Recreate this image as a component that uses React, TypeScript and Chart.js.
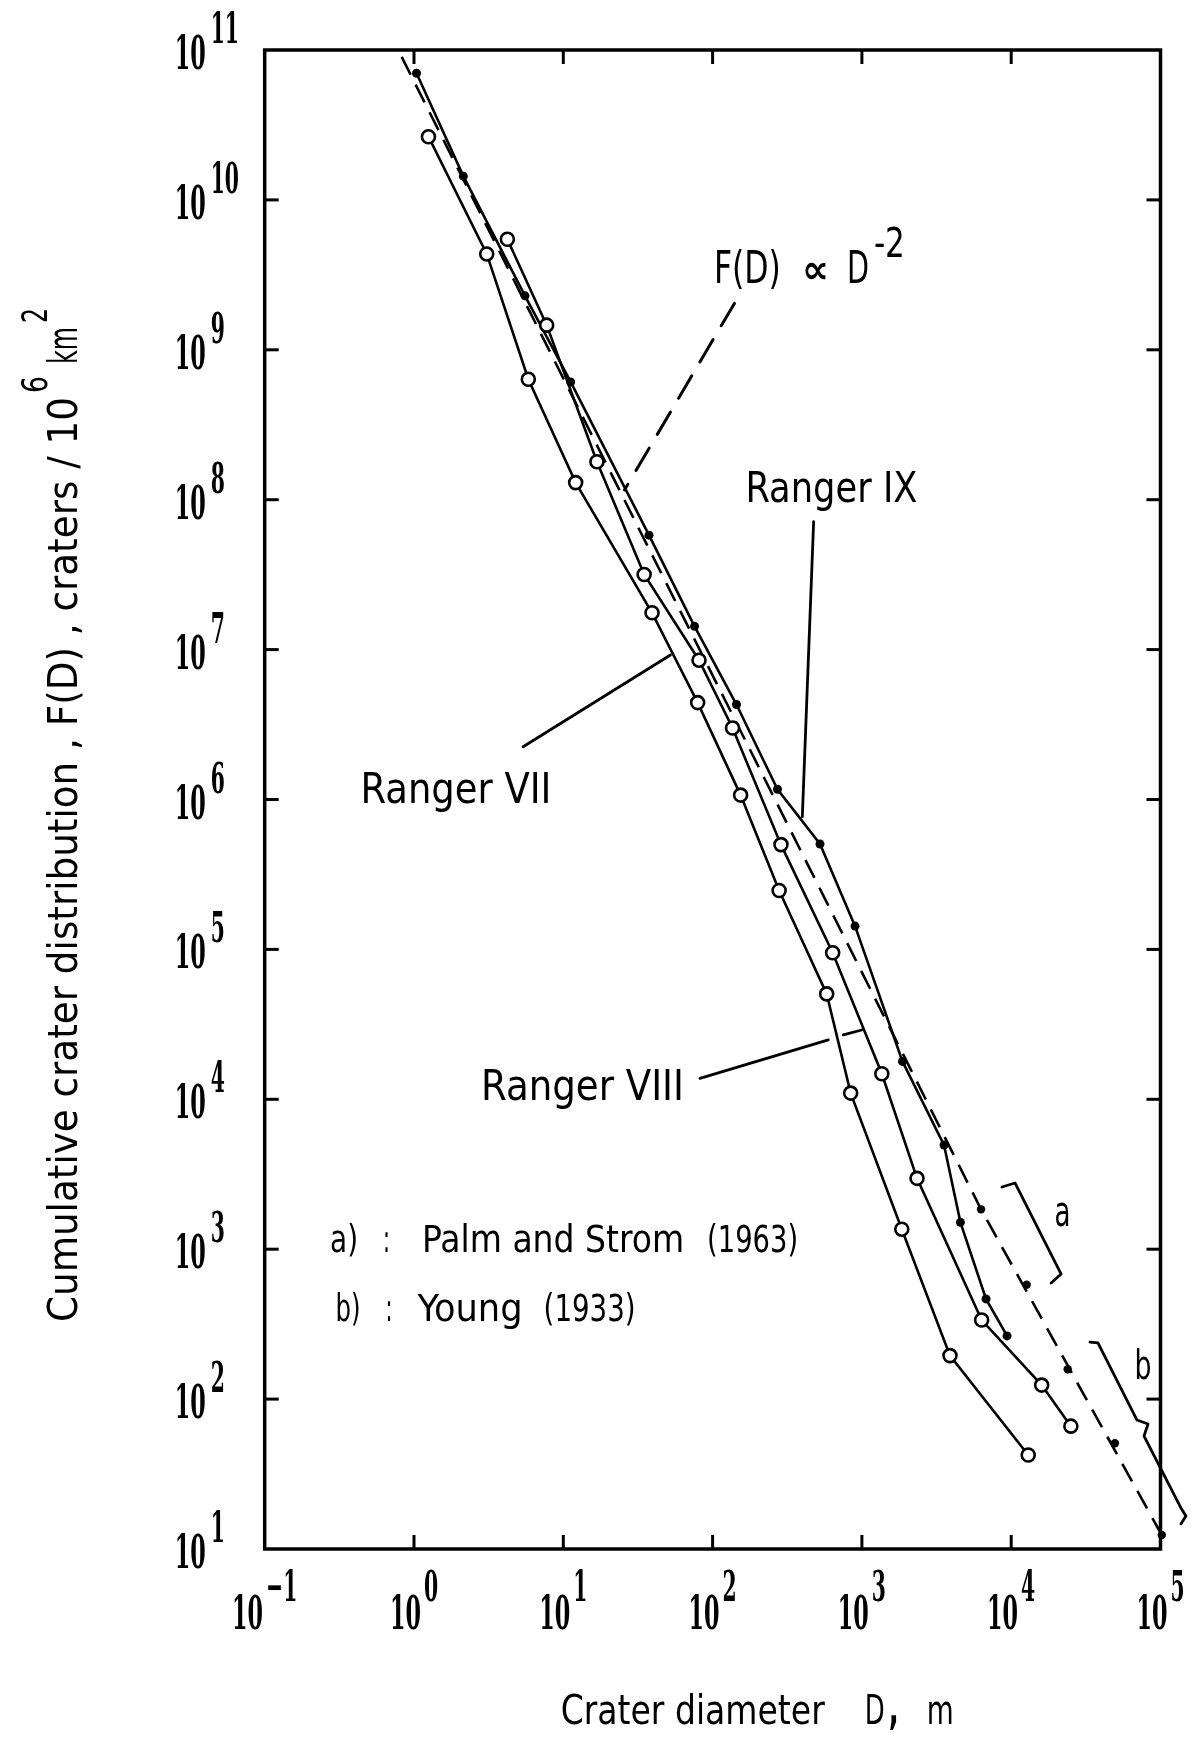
import React, { useEffect, useRef } from 'react';
import { Chart, registerables } from 'chart.js';

Chart.register(...registerables);

const SANS = '"DejaVu Sans Condensed", "Liberation Sans Narrow", "DejaVu Sans", sans-serif';
const SERIF = '"DejaVu Serif Condensed", "DejaVu Serif", "Liberation Serif", serif';

// ---- Data: crater diameter D (m) and cumulative crater count F(D) per 10^6 km^2 ----
const rangerVII_D = [1.25, 3.07, 5.83, 12.1, 39.3, 79.4, 154, 279, 581, 841, 1850, 3890, 13000];
const rangerVII_F = [2.64e10, 4.36e9, 6.36e8, 1.3e8, 1.76e7, 4.43e6, 1.07e6, 2.47e5, 5.05e4, 1.1e4, 1360, 195, 42.4];

const rangerVIII_D = [4.22, 7.74, 16.8, 34.8, 81.1, 136, 287, 637, 1360, 2340, 6340, 16000, 25100];
const rangerVIII_F = [5.46e9, 1.46e9, 1.79e8, 3.17e7, 8.5e6, 3.0e6, 5.0e5, 9.5e4, 1.48e4, 2970, 337, 124, 66];

const rangerIX_D = [1.04, 2.14, 5.54, 11.2, 37.5, 75.7, 144.5, 272, 524, 900, 1870, 3550, 4570, 6780, 9380];
const rangerIX_F = [7.0e10, 1.44e10, 2.29e9, 6.1e8, 5.8e7, 1.43e7, 4.3e6, 1.17e6, 5.05e5, 1.43e5, 1.79e4, 4950, 1510, 466, 264];

// a) Palm and Strom (1963), b) Young (1933)
const telescopic_D = [6280, 12700, 23900, 49500, 102000];
const telescopic_F = [1845, 580, 158, 50.7, 12.4];

// dashed reference line F(D) ∝ D^-2 (as drawn)
const powerLaw_D = [0.827, 6280, 102000];
const powerLaw_F = [9.0e10, 1845, 12.4];

// ---- Axis ticks ----
const xTickValues = [0.1, 1, 10, 100, 1e3, 1e4, 1e5];
const xTickExp = ['\u22121', '0', '1', '2', '3', '4', '5'];
const yTickValues = [1e1, 1e2, 1e3, 1e4, 1e5, 1e6, 1e7, 1e8, 1e9, 1e10, 1e11];
const yTickExp = ['1', '2', '3', '4', '5', '6', '7', '8', '9', '10', '11'];

// ---- Annotation anchors (data space) ----
const leaderFD = [[140, 2.04e9], [25.7, 1.16e8]];
const leaderIX = [[475, 7.13e7], [399, 7.67e5]];
const leaderVII = [[5.38, 2.25e6], [52.2, 9.2e6]];
const leaderVIIIa = [[82.3, 1.38e4], [596, 2.49e4]];
const leaderVIIIb = [[751, 2.69e4], [997, 2.9e4]];
const bracketA = [[8670, 2600], [10600, 2765], [21600, 683], [18500, 595]];
const braceB = [[33700, 240], [38100, 237], [69600, 72.5], [82500, 68.2], [77600, 56.7], [137000, 18.8], [148000, 16.6], [137000, 14.7]];

const labelTexts = [
  { text: 'Ranger IX', at: [166, 9.7e7], size: 42, width: 172, align: 'left' },
  { text: 'Ranger VII', at: [0.438, 9.43e5], size: 42, width: 191, align: 'left' },
  { text: 'Ranger VIII', at: [2.81, 9890], size: 42, width: 203, align: 'left' },
  { text: 'a', at: [22100, 1428], size: 42, width: 16, align: 'center' },
  { text: 'b', at: [76400, 136], size: 41, width: 17, align: 'center' },
];
const fdLabelAt = [102, 2.79e9];
const legendA = { at: [0.274, 958], parts: [['a)', 0, 28], [':', 53, 7], ['Palm and Strom', 92, 262], ['(1963)', 377, 91]] };
const legendB = { at: [0.2985, 333], parts: [['b)', 0, 25], [':', 50, 7], ['Young', 82, 105], ['(1933)', 208, 92]] };

function toXY(xs: number[], ys: number[]) {
  return xs.map((x, i) => ({ x, y: ys[i] }));
}

function fitText(ctx: CanvasRenderingContext2D, text: string, x: number, y: number, size: number, family: string, width: number | null, align: string = 'left', weight: string = '') {
  ctx.font = `${weight ? weight + ' ' : ''}${size}px ${family}`;
  const m = ctx.measureText(text).width;
  const sx = width ? width / m : 1;
  ctx.save();
  ctx.translate(x, y);
  ctx.scale(sx, 1);
  ctx.textAlign = 'left';
  ctx.textBaseline = 'alphabetic';
  const off = align === 'center' ? -m / 2 : align === 'right' ? -m : 0;
  ctx.fillText(text, off, 0);
  ctx.restore();
}

const decorPlugin = {
  id: 'decor',
  beforeDraw(chart: any) {
    const { ctx, width, height } = chart;
    ctx.save();
    ctx.fillStyle = '#fff';
    ctx.fillRect(0, 0, width, height);
    ctx.restore();
  },
  afterDatasetsDraw(chart: any) {
    const ctx: CanvasRenderingContext2D = chart.ctx;
    const ca = chart.chartArea;
    const xs = chart.scales.x;
    const ys = chart.scales.y;
    const px = (v: number) => xs.getPixelForValue(v);
    const py = (v: number) => ys.getPixelForValue(v);
    const P = (p: number[]) => [px(p[0]), py(p[1])];
    ctx.save();
    ctx.strokeStyle = '#000';
    ctx.fillStyle = '#000';

    const poly = (pts: number[][], lw: number, dash: number[] = []) => {
      ctx.save();
      ctx.lineWidth = lw;
      ctx.setLineDash(dash);
      ctx.lineJoin = 'round';
      ctx.lineCap = 'round';
      ctx.beginPath();
      pts.forEach((p, i) => {
        const [x, y] = P(p);
        if (i === 0) ctx.moveTo(x, y);
        else ctx.lineTo(x, y);
      });
      ctx.stroke();
      ctx.restore();
    };
    const seg = (x1: number, y1: number, x2: number, y2: number) => {
      ctx.beginPath();
      ctx.moveTo(x1, y1);
      ctx.lineTo(x2, y2);
      ctx.stroke();
    };

    // frame
    ctx.lineWidth = 3.5;
    ctx.strokeRect(ca.left, ca.top, ca.right - ca.left, ca.bottom - ca.top);
    // inward ticks
    ctx.lineWidth = 3;
    const tl = 14;
    yTickValues.forEach((v) => {
      const y = py(v);
      if (y > ca.top + 3 && y < ca.bottom - 3) {
        seg(ca.left, y, ca.left + tl, y);
        seg(ca.right, y, ca.right - tl, y);
      }
    });
    xTickValues.forEach((v) => {
      const x = px(v);
      if (x > ca.left + 3 && x < ca.right - 3) {
        seg(x, ca.bottom, x, ca.bottom - tl);
        seg(x, ca.top, x, ca.top + tl);
      }
    });

    // tick labels ("10" with raised exponent)
    const baseSize = 46;
    const expSize = 42;
    const W = 'bold';
    ctx.font = `${W} ${baseSize}px ${SERIF}`;
    const baseW = 31;
    const sx = baseW / ctx.measureText('10').width;
    yTickValues.forEach((v, i) => {
      const y = py(v);
      const x0 = ca.left - 90;
      fitText(ctx, '10', x0, y + 19, baseSize, SERIF, baseW, 'left', W);
      ctx.font = `${W} ${expSize}px ${SERIF}`;
      const we = ctx.measureText(yTickExp[i]).width * sx;
      fitText(ctx, yTickExp[i], x0 + baseW + 5, y - 7, expSize, SERIF, we, 'left', W);
    });
    xTickValues.forEach((v, i) => {
      const x = px(v);
      ctx.font = `${W} ${expSize}px ${SERIF}`;
      const we = ctx.measureText(xTickExp[i]).width * sx;
      const total = baseW + 3 + we;
      const start = x - total / 2;
      fitText(ctx, '10', start, ca.bottom + 80, baseSize, SERIF, baseW, 'left', W);
      fitText(ctx, xTickExp[i], start + baseW + 3, ca.bottom + 52, expSize, SERIF, we, 'left', W);
    });

    // axis titles
    const xb = ca.bottom + 175;
    fitText(ctx, 'Crater diameter', ca.left + 296, xb, 41, SANS, 264);
    fitText(ctx, 'D', ca.left + 600, xb, 41, SANS, 20);
    fitText(ctx, ',', ca.left + 624, xb, 44, SANS, 10, 'left', 'bold');
    fitText(ctx, 'm', ca.left + 662, xb, 41, SANS, 27);

    ctx.save();
    ctx.translate(ca.left - 188, ca.bottom - 227);
    ctx.rotate(-Math.PI / 2);
    fitText(ctx, 'Cumulative crater distribution , F(D) , craters / 10', 0, 0, 41, SANS, 925);
    fitText(ctx, '6', 929, -30, 36, SANS, 17);
    fitText(ctx, 'km', 958, 0, 40, SANS, 37);
    fitText(ctx, '2', 999, -30, 36, SANS, 15);
    ctx.restore();

    // leader lines and brackets
    poly(leaderFD, 3, [26, 16]);
    poly(leaderIX, 2.8);
    poly(leaderVII, 2.8);
    poly(leaderVIIIa, 2.8);
    poly(leaderVIIIb, 2.8);
    poly(bracketA, 2.8);
    poly(braceB, 2.8);

    // labels
    labelTexts.forEach((l) => {
      const [x, y] = P(l.at);
      fitText(ctx, l.text, x, y, l.size, SANS, l.width, l.align);
    });
    const [fx, fy] = P(fdLabelAt);
    fitText(ctx, 'F(D)', fx, fy, 45, SANS, 67);
    fitText(ctx, '\u221D', fx + 88, fy, 40, SANS, 27, 'left', 'bold');
    fitText(ctx, 'D', fx + 133, fy, 45, SANS, 22);
    fitText(ctx, '-2', fx + 160, fy - 26, 40, SANS, 31);

    [legendA, legendB].forEach((lg) => {
      const [lx, ly] = P(lg.at);
      lg.parts.forEach((p: any) => {
        fitText(ctx, p[0], lx + p[1], ly, 37, SANS, p[2]);
      });
    });

    ctx.restore();
  },
};

export default function App() {
  const ref = useRef<HTMLCanvasElement>(null);
  useEffect(() => {
    if (!ref.current) return;
    const openCircle = {
      showLine: true,
      borderColor: '#000',
      borderWidth: 2.6,
      pointRadius: 6.5,
      pointBackgroundColor: '#fff',
      pointBorderColor: '#000',
      pointBorderWidth: 2.6,
      tension: 0,
      clip: false as any,
    };
    const chart = new Chart(ref.current, {
      type: 'scatter',
      data: {
        datasets: [
          { label: 'Ranger VII', data: toXY(rangerVII_D, rangerVII_F), ...openCircle },
          { label: 'Ranger VIII', data: toXY(rangerVIII_D, rangerVIII_F), ...openCircle },
          {
            label: 'Ranger IX',
            data: toXY(rangerIX_D, rangerIX_F),
            showLine: true,
            borderColor: '#000',
            borderWidth: 2.6,
            pointRadius: 4.5,
            pointBackgroundColor: '#000',
            pointBorderColor: '#000',
            pointBorderWidth: 0,
            tension: 0,
            clip: false as any,
          },
          {
            label: 'Palm and Strom (1963) / Young (1933)',
            data: toXY(telescopic_D, telescopic_F),
            showLine: false,
            pointRadius: 4.2,
            pointBackgroundColor: '#000',
            pointBorderColor: '#000',
            pointBorderWidth: 0,
            clip: false as any,
          },
          {
            label: 'F(D) \u221D D^-2',
            data: toXY(powerLaw_D, powerLaw_F),
            showLine: true,
            borderColor: '#000',
            borderWidth: 2.6,
            borderDash: [20, 11],
            pointRadius: 0,
            tension: 0,
            clip: false as any,
          },
        ],
      },
      options: {
        responsive: false,
        animation: false,
        devicePixelRatio: 1,
        events: [],
        layout: { padding: { left: 264.7, right: 32.5, top: 50, bottom: 188 } },
        plugins: { legend: { display: false }, tooltip: { enabled: false } },
        scales: {
          x: { type: 'logarithmic', min: 0.1, max: 1e5, display: false },
          y: { type: 'logarithmic', min: 10, max: 1e11, display: false },
        },
      },
      plugins: [decorPlugin],
    });
    return () => chart.destroy();
  }, []);
  return (
    <div style={{ position: 'absolute', left: 0, top: 0, width: 1193, height: 1737, background: '#fff' }}>
      <canvas ref={ref} width={1193} height={1737} style={{ display: 'block', width: 1193, height: 1737 }} />
    </div>
  );
}
